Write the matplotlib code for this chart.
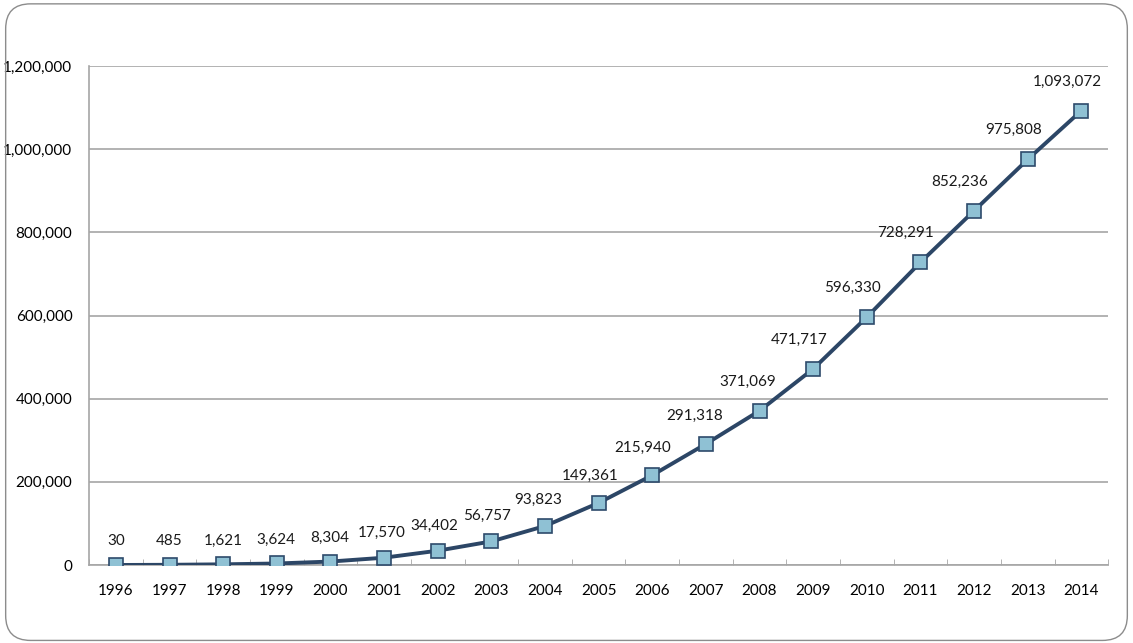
import numpy as np
import matplotlib
matplotlib.use('Agg')
import matplotlib.pyplot as plt
from matplotlib.patches import FancyBboxPatch
from matplotlib.ticker import FuncFormatter, FixedLocator

years = [1996, 1997, 1998, 1999, 2000, 2001, 2002, 2003, 2004, 2005,
         2006, 2007, 2008, 2009, 2010, 2011, 2012, 2013, 2014]
counts = [30, 485, 1621, 3624, 8304, 17570, 34402, 56757, 93823, 149361,
          215940, 291318, 371069, 471717, 596330, 728291, 852236, 975808, 1093072]

plt.rcParams['font.family'] = ['Lato', 'DejaVu Sans']

fig = plt.figure(figsize=(11.33, 6.43), dpi=100)
ax = fig.add_axes([0.0786, 0.1213, 0.8995, 0.7757])

border = FancyBboxPatch((0.005, 0.004), 0.99, 0.99,
                        boxstyle='round,pad=0,rounding_size=0.022',
                        transform=fig.transFigure, fill=False,
                        edgecolor='#8c8c8c', linewidth=1.0,
                        mutation_aspect=1133 / 643)
fig.patches.append(border)

x = np.arange(len(years))
ax.plot(x, counts, color='#2c4666', linewidth=2.8, zorder=3,
        marker='s', markersize=10, markerfacecolor='#8fc1d4',
        markeredgecolor='#2d4a6b', markeredgewidth=1.2)

ax.set_xlim(-0.5, len(years) - 0.5)
ax.set_ylim(0, 1200000)

# labels sit above, shifted left where the line is steep
pts = ax.transData.transform(np.column_stack([x, counts]))
for i, v in enumerate(counts):
    j0, j1 = max(i - 1, 0), min(i + 1, len(counts) - 1)
    d = pts[j1] - pts[j0]
    s = np.sin(np.arctan2(d[1], d[0]))
    ax.annotate(f'{v:,}', (x[i], v), xytext=(-15 * s, 17 + 6 * s),
                textcoords='offset points', ha='center', va='center',
                fontsize=11, color='#1a1a1a')

ax.set_xticks(x)
ax.set_xticklabels([str(y) for y in years])
ax.xaxis.set_minor_locator(FixedLocator(np.arange(-0.5, len(years), 1.0)))
ax.set_yticks(np.arange(0, 1200001, 200000))
ax.yaxis.set_major_formatter(FuncFormatter(lambda v, p: f'{int(v):,}'))

ax.grid(axis='y', color='#a6a6a6', linewidth=1.2)
ax.set_axisbelow(True)
for side in ['top', 'right']:
    ax.spines[side].set_visible(False)
for side in ['left', 'bottom']:
    ax.spines[side].set_color('#a6a6a6')
    ax.spines[side].set_linewidth(1.2)

ax.tick_params(axis='x', which='major', length=0, pad=14, labelsize=11)
ax.tick_params(axis='x', which='minor', length=4, color='#a6a6a6', direction='in')
ax.tick_params(axis='y', length=0, pad=12, labelsize=11)

fig.savefig('out.png', dpi=100)
